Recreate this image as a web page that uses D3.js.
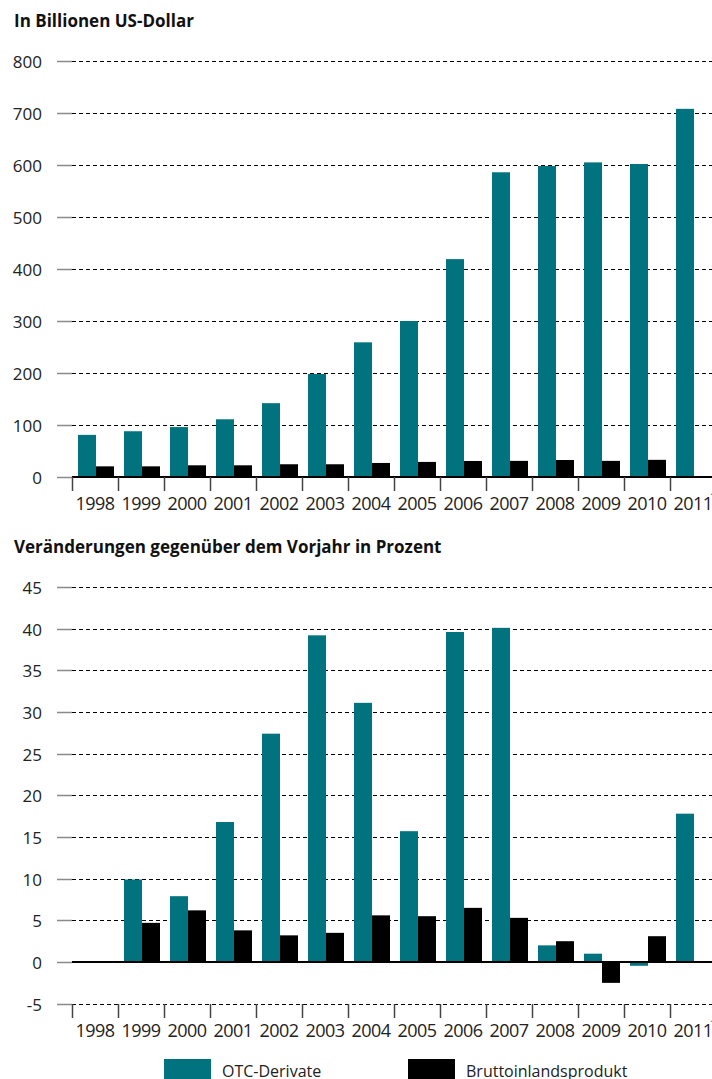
<!DOCTYPE html>
<html lang="de">
<head>
<meta charset="utf-8">
<script src="https://cdn.jsdelivr.net/npm/d3@7"></script>
<style>
  body { margin: 0; background: #fff; }
  svg { display: block; font-family: "Open Sans", "Noto Sans", sans-serif; }
  .title { font-weight: bold; font-size: 17px; fill: #111; }
  .tick-label { font-size: 17px; fill: #222; }
  .year-label { font-size: 18px; fill: #222; letter-spacing: -0.6px; }
  .legend-label { font-size: 16px; fill: #222; }
</style>
</head>
<body>
<svg id="chart" width="712" height="1079"></svg>
<script>
// Data
const years = ["1998", "1999", "2000", "2001", "2002", "2003", "2004",
  "2005", "2006", "2007", "2008", "2009", "2010", "2011"];

// In Billionen US-Dollar
const otcLevel = [81, 88, 96, 111, 142, 198, 259, 300, 419, 586, 598, 605, 602, 708];
const gdpLevel = [20.5, 20.5, 22.5, 22.5, 24.5, 24.5, 27, 29, 30.8, 31, 32.7, 31, 33, null];

// Veränderungen gegenüber dem Vorjahr in Prozent
const otcChange = [null, 9.9, 7.9, 16.8, 27.4, 39.2, 31.1, 15.7, 39.6, 40.1, 2.0, 1.0, -0.45, 17.8];
const gdpChange = [null, 4.7, 6.2, 3.8, 3.2, 3.5, 5.6, 5.5, 6.5, 5.3, 2.5, -2.5, 3.1, null];

const topTicks = [0, 100, 200, 300, 400, 500, 600, 700, 800];
const bottomTicks = [-5, 0, 5, 10, 15, 20, 25, 30, 35, 40, 45];

const seriesNames = ["OTC-Derivate", "Bruttoinlandsprodukt"];
const colors = ["#00737e", "#000000"];

const svg = d3.select("#chart");

// Shared x scale: one band per year, the last band runs past the edge
const xScale = d3.scaleBand()
  .domain(years)
  .range([72, 716])
  .padding(0);

const subScale = d3.scaleBand()
  .domain([0, 1])
  .range([6, 42])
  .padding(0);

// Draw one panel
function renderPanel(opts) {
  const { title, titleY, yScale, ticks, series, axisY } = opts;
  const g = svg.append("g");
  const zeroY = yScale(0);

  g.append("text")
    .attr("class", "title")
    .attr("x", 14)
    .attr("y", titleY)
    .text(title);

  // Grid lines and tick labels
  ticks.forEach(t => {
    const y = Math.round(yScale(t)) + 0.5;
    g.append("line")
      .attr("x1", 57).attr("x2", 72)
      .attr("y1", y).attr("y2", y)
      .attr("stroke", "#8a8a8a")
      .attr("stroke-width", 1.5);
    if (t !== 0) {
      g.append("line")
        .attr("x1", 72).attr("x2", 712)
        .attr("y1", y).attr("y2", y)
        .attr("stroke", "#000")
        .attr("stroke-width", 1)
        .attr("stroke-dasharray", "4,3");
    }
    g.append("text")
      .attr("class", "tick-label")
      .attr("x", 42)
      .attr("y", y)
      .attr("dy", "0.36em")
      .attr("text-anchor", "end")
      .text(t);
  });

  // Bars
  series.forEach((values, i) => {
    g.selectAll(null)
      .data(years.map((yr, j) => ({ yr, v: values[j] })).filter(d => d.v !== null))
      .enter()
      .append("rect")
      .attr("x", d => xScale(d.yr) + subScale(i))
      .attr("width", subScale.bandwidth())
      .attr("y", d => Math.min(yScale(d.v), zeroY))
      .attr("height", d => Math.abs(yScale(d.v) - zeroY))
      .attr("fill", colors[i]);
  });

  // Zero line
  g.append("line")
    .attr("x1", 72).attr("x2", 712)
    .attr("y1", zeroY).attr("y2", zeroY)
    .attr("stroke", "#000")
    .attr("stroke-width", 2);

  // X axis ticks at band boundaries
  years.forEach(yr => {
    const x = Math.round(xScale(yr)) + 0.5;
    g.append("line")
      .attr("x1", x).attr("x2", x)
      .attr("y1", axisY).attr("y2", axisY + 14)
      .attr("stroke", "#444")
      .attr("stroke-width", 1.5);
  });

  g.selectAll(null)
    .data(years)
    .enter()
    .append("text")
    .attr("class", "year-label")
    .attr("x", d => xScale(d) + xScale.bandwidth() / 2)
    .attr("y", axisY + 33)
    .attr("text-anchor", "middle")
    .text(d => d);

  // Footnote marker after 2011 (cut off at the edge)
  g.append("text")
    .attr("x", 710)
    .attr("y", axisY + 23)
    .attr("font-size", 9)
    .attr("fill", "#222")
    .text("1)");
}

// Top panel
renderPanel({
  title: "In Billionen US-Dollar",
  titleY: 27,
  yScale: d3.scaleLinear().domain([0, 800]).range([477, 61]),
  ticks: topTicks,
  series: [otcLevel, gdpLevel],
  axisY: 477
});

// Bottom panel
renderPanel({
  title: "Veränderungen gegenüber dem Vorjahr in Prozent",
  titleY: 553,
  yScale: d3.scaleLinear().domain([-5, 45]).range([1003.7, 587]),
  ticks: bottomTicks,
  series: [otcChange, gdpChange],
  axisY: 1004
});

// Legend
const legend = svg.append("g");
const legendX = [164, 408];
seriesNames.forEach((name, i) => {
  legend.append("rect")
    .attr("x", legendX[i])
    .attr("y", 1059)
    .attr("width", 47)
    .attr("height", 25)
    .attr("fill", colors[i]);
  legend.append("text")
    .attr("class", "legend-label")
    .attr("x", legendX[i] + 58)
    .attr("y", 1077)
    .text(name);
});
</script>
</body>
</html>
